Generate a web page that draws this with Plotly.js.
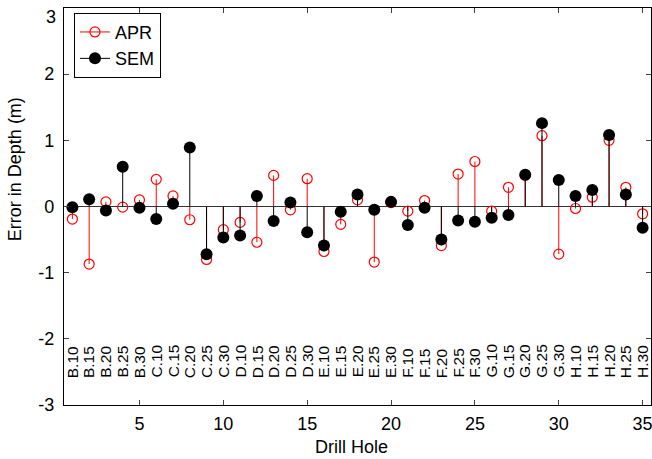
<!DOCTYPE html>
<html>
<head>
<meta charset="utf-8">
<script src="https://cdn.plot.ly/plotly-3.0.1.min.js"></script>
<style>html,body{margin:0;padding:0;background:#fff;}#chart{width:652px;height:459px;}</style>
</head>
<body>
<div id="chart"></div>
<script>
const holes = ["B.10","B.15","B.20","B.25","B.30","C.10","C.15","C.20","C.25","C.30",
  "D.10","D.15","D.20","D.25","D.30","E.10","E.15","E.20","E.25","E.30",
  "F.10","F.15","F.20","F.25","F.30","G.10","G.15","G.20","G.25","G.30",
  "H.10","H.15","H.20","H.25","H.30"];
const apr = [-0.19,-0.87,0.07,-0.01,0.10,0.41,0.16,-0.20,-0.80,-0.35,
  -0.24,-0.54,0.47,-0.05,0.42,-0.68,-0.27,0.10,-0.84,0.06,
  -0.07,0.09,-0.59,0.49,0.68,-0.07,0.29,0.47,1.07,-0.72,
  -0.03,0.14,1.00,0.29,-0.11];
const sem = [-0.01,0.11,-0.06,0.60,-0.02,-0.19,0.04,0.89,-0.72,-0.47,
  -0.44,0.16,-0.22,0.06,-0.39,-0.59,-0.08,0.18,-0.05,0.07,
  -0.28,-0.02,-0.50,-0.21,-0.23,-0.17,-0.13,0.48,1.26,0.40,
  0.16,0.25,1.08,0.18,-0.32];
const xTicks = [5,10,15,20,25,30,35];
const yTicks = [-3,-2,-1,0,1,2,3];
const yTickText = ["-3","-2","-1","0","1","2",""];
const yTopLabel = "3";

const idx = holes.map((_, i) => i + 1);
function stems(vals) {
  const x = [], y = [];
  vals.forEach((v, i) => { x.push(idx[i], idx[i], null); y.push(0, v, null); });
  return {x, y};
}
const a = stems(apr), b = stems(sem);
const FF = "Liberation Sans, Arial, sans-serif";
const f = (size) => ({family: FF, size: size, color: "#000"});

const aprMarker = {symbol: "circle-open", color: "#ff0000", size: 10, opacity: 1, line: {width: 1.2, color: "#ff0000"}};
const semMarker = {symbol: "circle", color: "#000000", size: 12, opacity: 1};

const traces = [
  {x: [null], y: [null], name: "APR", mode: "lines+markers", line: {color: "#ff0000", width: 1}, marker: aprMarker},
  {x: [null], y: [null], name: "SEM", mode: "lines+markers", line: {color: "#000000", width: 1}, marker: semMarker},
  {x: a.x, y: a.y, mode: "lines", showlegend: false, connectgaps: false, line: {color: "#ff0000", width: 1}},
  {x: idx, y: apr, mode: "markers", showlegend: false, marker: aprMarker},
  {x: b.x, y: b.y, mode: "lines", showlegend: false, connectgaps: false, line: {color: "#000000", width: 1}},
  {x: idx, y: sem, mode: "markers", showlegend: false, marker: semMarker}
];

const annotations = holes.map((h, i) => ({
  x: idx[i], y: -2.62, xref: "x", yref: "y", text: h, showarrow: false,
  textangle: -90, xanchor: "center", yanchor: "bottom", borderpad: 0, yshift: 1,
  font: f(15.5)
}));
annotations.push({x: 0.49, y: -0.106, xref: "paper", yref: "paper", text: "Drill Hole",
  showarrow: false, xanchor: "center", yanchor: "middle", font: f(18)});
annotations.push({x: -0.0835, y: 0.594, xref: "paper", yref: "paper", text: "Error in Depth (m)",
  showarrow: false, textangle: -90, xanchor: "center", yanchor: "middle", font: f(18)});
annotations.push({x: 0, y: 3, xref: "paper", yref: "y", text: yTopLabel, showarrow: false,
  xanchor: "right", yanchor: "top", xshift: -7, yshift: 2, borderpad: 0, font: f(18)});

const layout = {
  width: 652, height: 459,
  margin: {l: 64, r: 1, t: 8, b: 54},
  paper_bgcolor: "#fff", plot_bgcolor: "#fff",
  font: f(18),
  showlegend: true,
  legend: {x: 0.017, y: 0.988, xanchor: "left", yanchor: "top", bgcolor: "#fff",
           bordercolor: "#000", borderwidth: 1, tracegroupgap: 0,
           font: f(18)},
  xaxis: {range: [0.5, 35.5], tickvals: xTicks, ticks: "inside", ticklen: 5,
          showgrid: false, zeroline: false, showline: true, linecolor: "#000", linewidth: 1.2,
          mirror: "ticks", tickfont: f(18), ticklabelstandoff: 2, ticklabeloverflow: "allow"},
  yaxis: {range: [-3, 3], tickvals: yTicks, ticktext: yTickText, ticks: "inside", ticklen: 5,
          showgrid: false, zeroline: true, zerolinecolor: "#333", zerolinewidth: 1.5,
          showline: true, linecolor: "#000", linewidth: 1.2,
          mirror: "ticks", tickfont: f(18), ticklabelstandoff: 5, ticklabeloverflow: "allow"},
  annotations: annotations
};
Plotly.newPlot("chart", traces, layout, {displayModeBar: false, staticPlot: true});
</script>
</body>
</html>
